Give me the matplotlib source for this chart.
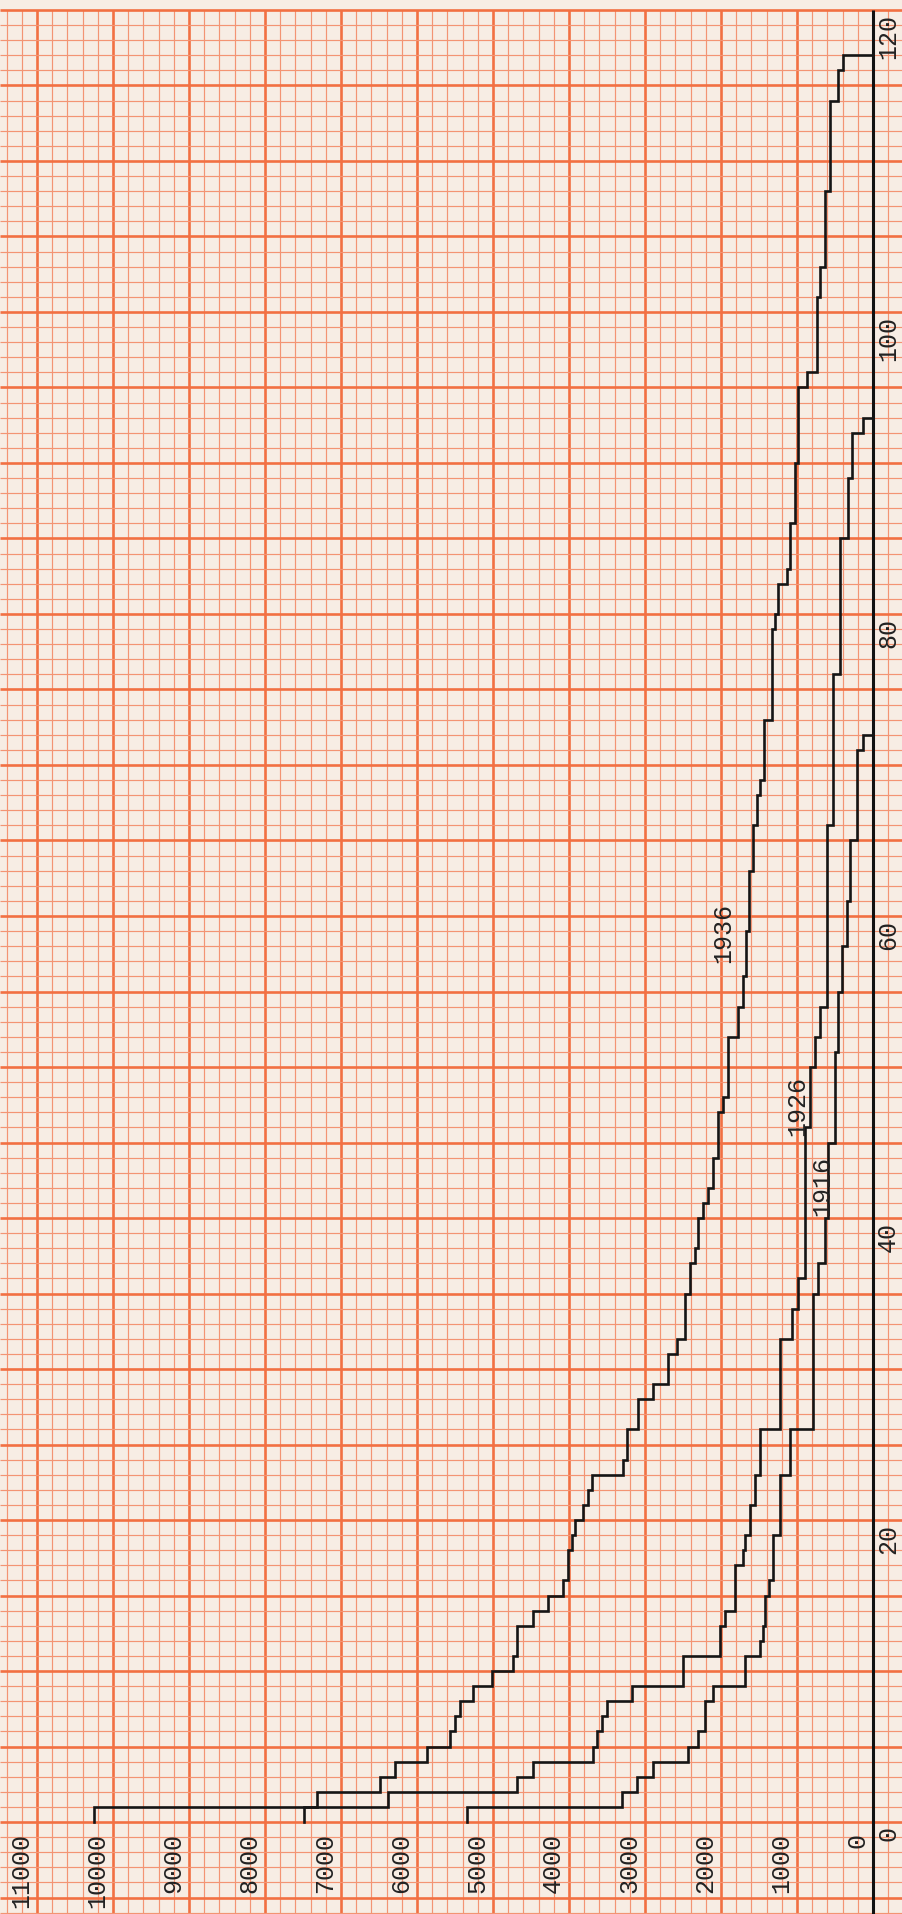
import numpy as np
import matplotlib.pyplot as plt

# step curves: count held between successive ages, drops to 0 at the last age
ages_1936 = [0, 1, 2, 3, 4, 5, 6, 7, 8, 9, 10, 11, 13, 14, 15, 16, 18, 19, 20, 21, 22, 23, 24, 26, 28, 29, 31, 32,
             35, 37, 38, 40, 41, 42, 44, 47, 48, 52, 54, 56, 59, 63, 66, 68, 69, 73, 79, 80, 82, 83, 86, 90,
             95, 96, 101, 103, 108, 114, 116, 117]
counts_1936 = [10250, 7320, 6490, 6290, 5870, 5570, 5500, 5430, 5260, 5010, 4740, 4680, 4470, 4280, 4080, 4010,
               3960, 3920, 3820, 3750, 3700, 3290, 3240, 3090, 2900, 2700, 2580, 2470, 2410, 2340, 2300, 2240,
               2170, 2100, 2040, 1970, 1910, 1780, 1710, 1670, 1630, 1580, 1530, 1490, 1440, 1330, 1290, 1250,
               1130, 1090, 1030, 990, 870, 740, 700, 630, 570, 460, 400]

ages_1926 = [0, 1, 2, 3, 4, 5, 6, 7, 8, 9, 11, 13, 14, 17, 18, 19, 21, 23, 26, 32, 34, 36, 46, 50, 52, 54, 66,
             76, 85, 89, 92, 93]
counts_1926 = [7490, 6380, 4680, 4470, 3680, 3630, 3570, 3500, 3170, 2500, 2010, 1950, 1820, 1710, 1680, 1620,
               1550, 1490, 1220, 1070, 990, 900, 830, 760, 700, 610, 520, 430, 330, 280, 130]

ages_1916 = [0, 1, 2, 3, 4, 5, 6, 8, 9, 11, 12, 13, 15, 16, 19, 23, 26, 35, 37, 40, 45, 51, 55, 58, 61, 65, 71, 72]
counts_1916 = [5340, 3300, 3110, 2900, 2430, 2300, 2210, 2100, 1680, 1490, 1450, 1420, 1370, 1320, 1220, 1090,
               790, 720, 630, 590, 500, 460, 410, 340, 300, 210, 130]

count_ticks = list(range(0, 12000, 1000))
age_ticks = [0, 20, 40, 60, 80, 100, 120]
curve_labels = {'1936': (1974, 58.9), '1926': (1000, 47.4), '1916': (671, 42.1)}

paper = '#f7ede4'
minor_col = '#f39473'
major_col = '#f27042'
ink = '#222222'
font = ['Liberation Mono', 'DejaVu Sans Mono']


def step_path(ages, counts):
    xs, ys = [counts[0]], [ages[0]]
    vals = list(counts) + [0]
    for i in range(len(counts)):
        xs += [vals[i], vals[i + 1]]
        ys += [ages[i + 1], ages[i + 1]]
    return xs, ys


fig = plt.figure(figsize=(9.02, 19.14), dpi=100, facecolor=paper)
ax = fig.add_axes([0, 0, 1, 1])
ax.set_facecolor(paper)
xmin, xmax = -382, 11487
ymin, ymax = -6.09, 120.66
ax.set_xlim(xmax, xmin)
ax.set_ylim(ymin, ymax)
ax.axis('off')

# graph paper
for c in range(-200, 11500, 200):
    major = c % 1000 == 0
    ax.vlines(c, ymin, 120, color=major_col if major else minor_col,
              lw=1.9 if major else 0.85, zorder=1)
for a in range(-6, 121):
    major = a % 5 == 0
    ax.hlines(a, xmin, xmax, color=major_col if major else minor_col,
              lw=1.9 if major else 0.85, zorder=1)

ax.vlines(0, ymin, 120, color='#111111', lw=2.2, zorder=3)

for ages, counts in [(ages_1936, counts_1936), (ages_1926, counts_1926), (ages_1916, counts_1916)]:
    xs, ys = step_path(ages, counts)
    ax.plot(xs, ys, color='#151515', lw=1.9, solid_joinstyle='miter', zorder=4)

for v in count_ticks:
    ax.text(v + 210, -0.7, str(v), rotation=90, ha='center', va='top',
            fontsize=18, color=ink, family=font, zorder=5)
for a in age_ticks:
    ax.text(-200, a - 0.25, str(a), rotation=90, ha='center', va='top',
            fontsize=18, color=ink, family=font, zorder=5)
for name, (x, y) in curve_labels.items():
    ax.text(x, y, name, rotation=90, ha='center', va='center',
            fontsize=18, color=ink, family=font, zorder=5)

fig.savefig('out.png', dpi=100, facecolor=paper)
